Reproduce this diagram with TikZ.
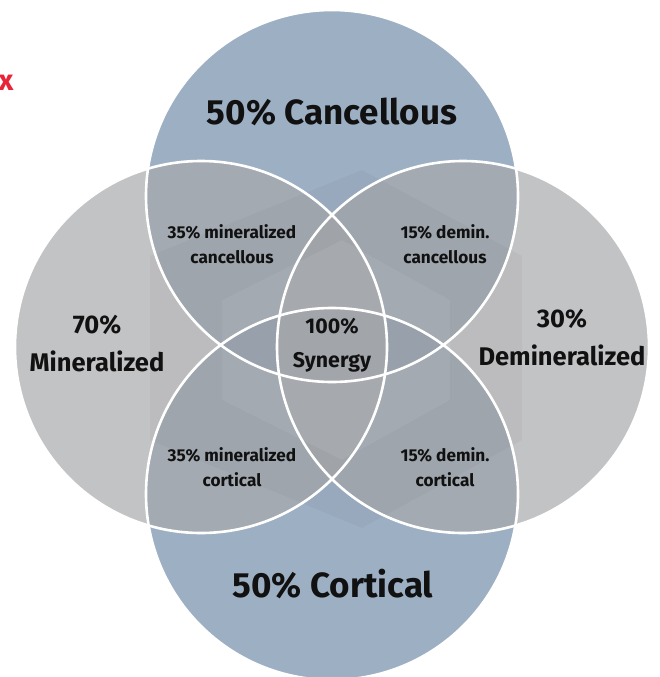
\documentclass[tikz,border=0pt]{standalone}
\usepackage{fontspec}
\setmainfont{Fira Sans}
\definecolor{bluefill}{RGB}{92,122,155}
\definecolor{greyfill}{RGB}{168,169,172}
\definecolor{labelink}{RGB}{17,17,17}
\definecolor{xred}{RGB}{232,36,56}
\tikzset{
  setblue/.style={circle, inner sep=0pt, minimum size=372pt, fill=bluefill, fill opacity=0.6, draw=none},
  setgrey/.style={circle, inner sep=0pt, minimum size=372pt, fill=greyfill, fill opacity=0.7, draw=none},
  rim/.style={draw=white, line width=2.6pt},
  biglabel/.style={text=labelink, font=\bfseries\fontsize{35}{38}\selectfont, align=center},
  midlabel/.style={text=labelink, font=\bfseries\fontsize{25.5}{38}\selectfont, align=center},
  smalllabel/.style={text=labelink, font=\fontsize{17.2}{25}\selectfont\bfseries, align=center},
  centerlabel/.style={text=labelink, font=\fontsize{21.3}{34}\selectfont\bfseries, align=center},
}
\begin{document}
\begin{tikzpicture}[x=1pt,y=-1pt]
\useasboundingbox (0,0) rectangle (660,677);
\clip (0,0) rectangle (660,677);
% fills
\node[setblue] (top) at (332,196) {};
\node[setblue] (bottom) at (332,494) {};
\node[setgrey] (left) at (201,347) {};
\node[setgrey] (right) at (463,347) {};
% faint watermark
\fill[black, opacity=0.03, even odd rule]
  (362,170) -- (522,256) -- (522,440) -- (362,528) -- (150,440) -- (150,256) -- cycle
  (342,240) -- (450,300) -- (450,400) -- (342,460) -- (222,400) -- (222,300) -- cycle;
% white outlines
\draw[rim] (top.center) circle[radius=186];
\draw[rim] (bottom.center) circle[radius=186];
\draw[rim] (left.center) circle[radius=186];
\draw[rim] (right.center) circle[radius=186];
% labels
\node[biglabel] (canc) at (332,112) {50\% Cancellous};
\node[biglabel] (cort) at (333,584) {50\% Cortical};
\node[midlabel] (mineral) at (97,344) {70\%\\Mineralized};
\node[midlabel] (demin) at (562,338) {30\%\\Demineralized};
\node[smalllabel] (mc) at (232,244) {35\% mineralized\\cancellous};
\node[smalllabel] (dc) at (445,244) {15\% demin.\\cancellous};
\node[smalllabel] (mco) at (232,467) {35\% mineralized\\cortical};
\node[smalllabel] (dco) at (445,467) {15\% demin.\\cortical};
\node[centerlabel] (syn) at (332,345) {100\%\\Synergy};
\node[text=xred, font=\bfseries\fontsize{29}{29}\selectfont] (xmark) at (6,83) {x};
\end{tikzpicture}
\end{document}
